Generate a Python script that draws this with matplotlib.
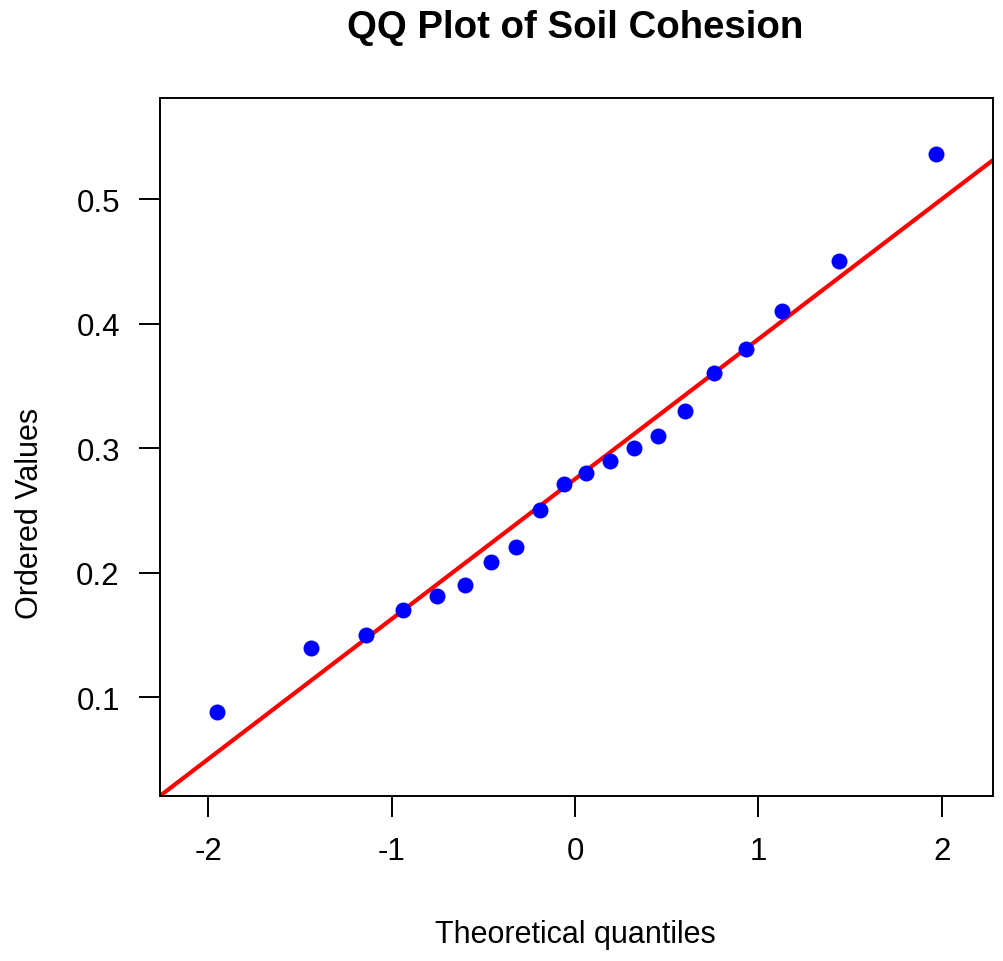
import matplotlib
matplotlib.use("Agg")
import matplotlib.pyplot as plt
import numpy as np

plt.rcParams['font.family'] = ['Liberation Sans', 'DejaVu Sans']

theoretical_quantiles = [-1.95, -1.44, -1.14, -0.94, -0.75, -0.60, -0.46, -0.32,
                         -0.19, -0.06, 0.06, 0.19, 0.32, 0.45, 0.60, 0.76,
                         0.93, 1.13, 1.44, 1.97]
ordered_values = [0.088, 0.140, 0.150, 0.170, 0.181, 0.190, 0.209, 0.221,
                  0.250, 0.271, 0.280, 0.290, 0.300, 0.310, 0.330, 0.360,
                  0.380, 0.410, 0.450, 0.536]
line_slope = 0.1124
line_intercept = 0.2752

x_ticks = [-2, -1, 0, 1, 2]
y_ticks = [0.1, 0.2, 0.3, 0.4, 0.5]

fig = plt.figure(figsize=(10.04, 9.62), dpi=100)
ax = fig.add_axes([0.1594, 0.1715, 0.9296 - 0.1594 + 0.0594, 0.897 - 0.1715])

xlim = (-2.262, 2.278)
ylim = (0.0208, 0.581)
ax.set_xlim(*xlim)
ax.set_ylim(*ylim)

xl = np.array(xlim)
ax.plot(xl, line_intercept + line_slope * xl, color='#ff0000', lw=3.0,
        solid_capstyle='butt', zorder=2)
ax.plot(theoretical_quantiles, ordered_values, 'o', color='#0000ff',
        ms=11.5, mec='none', zorder=3)

ax.set_xticks(x_ticks)
ax.set_xticklabels([str(t) for t in x_ticks])
ax.set_yticks(y_ticks)
ax.set_yticklabels([f"{t:.1f}" for t in y_ticks])
ax.tick_params(axis='both', direction='out', length=15, width=1.4,
               labelsize=22.5, pad=14, colors='black')
for s in ax.spines.values():
    s.set_linewidth(1.4)

fig.text(0.5727, 0.971, "QQ Plot of Soil Cohesion", ha='center', va='center',
         fontsize=27.6, fontweight='bold')
fig.text(0.5727, 0.028, "Theoretical quantiles", ha='center', va='center',
         fontsize=22)
fig.text(0.030, 0.466, "Ordered Values", ha='center', va='center',
         fontsize=22, rotation=90)

fig.savefig("out.png", dpi=100)
